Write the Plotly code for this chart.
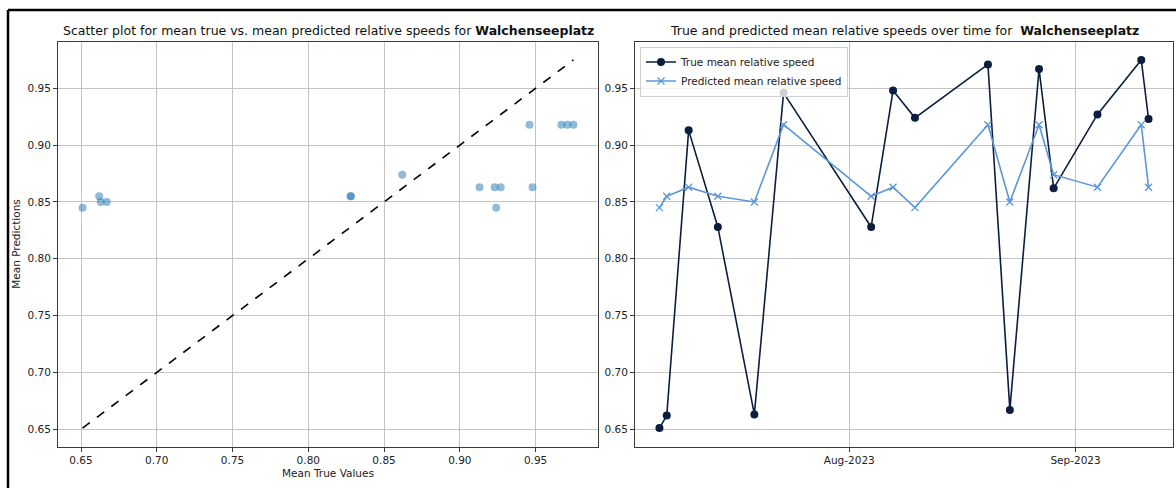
import plotly.graph_objects as go
import pandas as pd

dates = ["2023-07-06", "2023-07-07", "2023-07-10", "2023-07-14", "2023-07-19", "2023-07-23",
         "2023-08-04", "2023-08-07", "2023-08-10", "2023-08-20", "2023-08-23", "2023-08-27",
         "2023-08-29", "2023-09-04", "2023-09-10", "2023-09-11"]
true_vals = [0.651, 0.662, 0.913, 0.828, 0.663, 0.946, 0.828, 0.948, 0.924, 0.971, 0.667, 0.967,
             0.862, 0.927, 0.975, 0.923]
pred_vals = [0.845, 0.855, 0.863, 0.855, 0.850, 0.918, 0.855, 0.863, 0.845, 0.918, 0.850, 0.918,
             0.874, 0.863, 0.918, 0.863]
y_ticks = [0.65, 0.70, 0.75, 0.80, 0.85, 0.90, 0.95]
x_ticks_left = [0.65, 0.70, 0.75, 0.80, 0.85, 0.90, 0.95]
month_ticks = ["2023-08-01", "2023-09-01"]
month_labels = ["Aug-2023", "Sep-2023"]

W, H = 1176, 488
FONT = "DejaVu Sans"
TRUE_C = "#0b1e3e"
PRED_C = "#5a97d8"
GRID = "#c4c4c4"
SPINE = "#3a3a3a"

lo = min(true_vals)
hi = max(true_vals)
m = 0.05 * (hi - lo)
vrange = [lo - m, hi + m]

d = pd.to_datetime(dates)
span = d.max() - d.min()
drange = [(d.min() - 0.05 * span).isoformat(), (d.max() + 0.05 * span).isoformat()]

fig = go.Figure()

# left: scatter
fig.add_trace(go.Scatter(x=true_vals, y=pred_vals, mode="markers",
                         marker=dict(color="#1f77b4", opacity=0.5, size=8, line=dict(width=0)),
                         showlegend=False, xaxis="x", yaxis="y"))
fig.add_trace(go.Scatter(x=[lo, hi], y=[lo, hi], mode="lines",
                         line=dict(color="black", dash="dash", width=1.6),
                         showlegend=False, xaxis="x", yaxis="y"))

# right: time series
fig.add_trace(go.Scatter(x=dates, y=true_vals, mode="lines+markers", name="True mean relative speed",
                         line=dict(color=TRUE_C, width=1.6),
                         marker=dict(symbol="circle", size=8, color=TRUE_C),
                         xaxis="x2", yaxis="y2"))
fig.add_trace(go.Scatter(x=dates, y=pred_vals, mode="lines+markers", name="Predicted mean relative speed",
                         line=dict(color=PRED_C, width=1.6),
                         marker=dict(symbol="x-thin", size=7, color=PRED_C, line=dict(width=1.3, color=PRED_C)),
                         xaxis="x2", yaxis="y2"))

ax_common = dict(showgrid=True, gridcolor=GRID, gridwidth=1, zeroline=False,
                 showline=True, linecolor=SPINE, linewidth=1, mirror=True,
                 ticks="outside", ticklen=4, tickcolor=SPINE,
                 tickfont=dict(family=FONT, size=10.5, color="#222"))

y_bot = (H - 446.5) / H
y_top = (H - 41.5) / H

fig.update_layout(
    width=W, height=H,
    margin=dict(l=0, r=0, t=0, b=0),
    paper_bgcolor="white", plot_bgcolor="white",
    font=dict(family=FONT, color="#222"),
    xaxis=dict(domain=[58 / W, 598 / W], range=[vrange[0], vrange[1]], tickvals=x_ticks_left,
               ticktext=[f"{v:.2f}" for v in x_ticks_left],
               title=dict(text="Mean True Values", font=dict(family=FONT, size=10.5, color="#222"), standoff=4),
               anchor="y", **ax_common),
    yaxis=dict(domain=[y_bot, y_top], range=[vrange[0], vrange[1]], tickvals=y_ticks,
               ticktext=[f"{v:.2f}" for v in y_ticks],
               title=dict(text="Mean Predictions", font=dict(family=FONT, size=10.5, color="#222"), standoff=4),
               anchor="x", **ax_common),
    xaxis2=dict(domain=[635 / W, 1173 / W], range=drange, type="date", tickvals=month_ticks,
                ticktext=month_labels, anchor="y2", **ax_common),
    yaxis2=dict(domain=[y_bot, y_top], range=[vrange[0], vrange[1]], tickvals=y_ticks,
                ticktext=[f"{v:.2f}" for v in y_ticks], anchor="x2", **ax_common),
    legend=dict(x=640 / W, y=1 - 46.5 / H, xanchor="left", yanchor="top",
                bgcolor="rgba(255,255,255,0.8)", bordercolor="#d0d0d0", borderwidth=1,
                font=dict(family=FONT, size=10.5, color="#222"), tracegroupgap=0,
                itemwidth=30),
    showlegend=True,
)

fig.add_annotation(text="Scatter plot for mean true vs. mean predicted relative speeds for <b>Walchenseeplatz</b>",
                   x=328 / W, y=1 - 31 / H, xref="paper", yref="paper", xanchor="center", yanchor="middle",
                   showarrow=False, font=dict(family=FONT, size=12.5, color="#111"))
fig.add_annotation(text="True and predicted mean relative speeds over time for  <b>Walchenseeplatz</b>",
                   x=904 / W, y=1 - 31 / H, xref="paper", yref="paper", xanchor="center", yanchor="middle",
                   showarrow=False, font=dict(family=FONT, size=12.5, color="#111"))

# outer frame (top and left edges)
fig.add_shape(type="line", xref="paper", yref="paper", x0=8 / W, x1=1.01, y0=1 - 10 / H, y1=1 - 10 / H,
              line=dict(color="black", width=2.5))
fig.add_shape(type="line", xref="paper", yref="paper", x0=8 / W, x1=8 / W, y0=-0.01, y1=1 - 10 / H,
              line=dict(color="black", width=2.5))

fig.write_html("out.html")
